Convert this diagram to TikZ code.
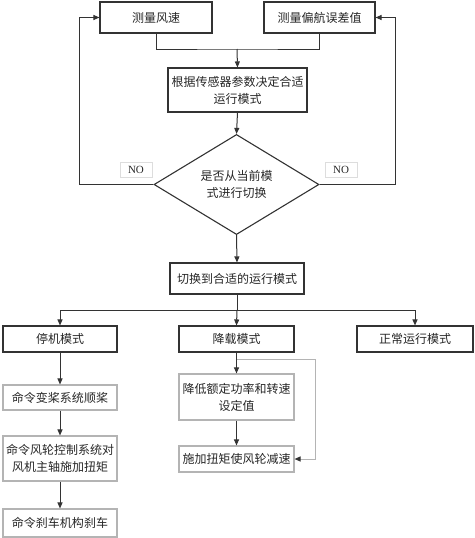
\documentclass[tikz,border=0pt]{standalone}
\usepackage{fontspec}
\setmainfont{Liberation Serif}
\newfontfamily\cjk{Noto Sans CJK SC}
\usetikzlibrary{shapes.geometric,arrows.meta}
\definecolor{linegray}{HTML}{333333}
\definecolor{palegray}{HTML}{B4B4B4}
\definecolor{nogray}{HTML}{DDDDDD}
\begin{document}
\begin{tikzpicture}[
  x=1pt, y=-1pt,
  >={Triangle[length=6pt,width=5pt]},
  every node/.style={font=\cjk\fontsize{12}{17}\selectfont, text=black!85, align=center, inner sep=1pt},
  box/.style={draw=linegray, line width=1.1pt, minimum height=#1},
  box/.default=31pt,
  lightbox/.style={draw=palegray, line width=1.1pt, minimum height=#1},
  lightbox/.default=26pt,
  decision/.style={diamond, draw=linegray, line width=1.1pt, minimum width=165pt, minimum height=87pt, inner sep=0pt},
  nolabel/.style={draw=nogray, font=\rmfamily\fontsize{11}{13}\selectfont, minimum width=32pt, minimum height=15pt},
  flow/.style={draw=linegray, line width=1pt}
]
\useasboundingbox (0,0) rectangle (474,538);

% top row
\node[box, minimum width=112pt] (speed) at (156,17.5) {测量风速};
\node[box, minimum width=111pt] (yaw) at (319.5,17.5) {测量偏航误差值};
\node[box=44pt, minimum width=139pt] (decide) at (237.5,90) {根据传感器参数决定合适\\运行模式};
\node[decision] (ask) at (236.5,184.5) {是否从当前模\\式进行切换};
\node[nolabel] (noleft) at (136,170) {NO};
\node[nolabel] (noright) at (341,170) {NO};
\node[box, minimum width=134pt] (switch) at (237,278.5) {切换到合适的运行模式};

% modes
\node[box=26pt, minimum width=114pt] (stop) at (60,339) {停机模式};
\node[box=26pt, minimum width=115pt] (derate) at (236.5,339) {降载模式};
\node[box=26pt, minimum width=116pt] (normal) at (415,339) {正常运行模式};

% stop branch
\node[lightbox=25pt, minimum width=114pt] (feather) at (60,397.5) {命令变桨系统顺桨};
\node[lightbox=45pt, minimum width=114pt] (torque) at (60,458.5) {命令风轮控制系统对\\风机主轴施加扭矩};
\node[lightbox=28pt, minimum width=114pt] (brake) at (60,523) {命令刹车机构刹车};

% derate branch
\node[lightbox=46pt, minimum width=115pt] (lower) at (236.5,397) {降低额定功率和转速\\设定值};
\node[lightbox=26pt, minimum width=115pt] (decel) at (236.5,459) {施加扭矩使风轮减速};

\coordinate (join) at (237,49);
\coordinate (lcorner) at (79,17.5);
\coordinate (rcorner) at (395,17.5);
\coordinate (split) at (237,310);
\coordinate (tap) at (237,359);
\coordinate (bend) at (315,359);

\draw[flow] (speed.south) |- (join) -| (yaw.south);
\draw[flow,->] (join) -- (decide.north);
\draw[flow,->] (decide.south) -- (ask.north);
\draw[flow,->] (ask.west) -| (lcorner) -- (speed.west);
\draw[flow,->] (ask.east) -| (rcorner) -- (yaw.east);
\draw[flow,->] (ask.south) -- (switch.north);
\draw[flow] (switch.south) -- (split);
\draw[flow,->] (split) -| (stop.north);
\draw[flow,->] (split) -- (derate.north);
\draw[flow,->] (split) -| (normal.north);
\draw[flow,->] (stop) -- (feather);
\draw[flow,->] (feather) -- (torque);
\draw[flow,->] (torque) -- (brake);
\draw[flow,->] (derate) -- (lower);
\draw[flow,->] (lower) -- (decel);
\draw[draw=palegray, line width=1pt, -{Triangle[length=6pt,width=5pt,color=linegray]}] (tap) -- (bend) |- (decel.east);
\end{tikzpicture}
\end{document}
